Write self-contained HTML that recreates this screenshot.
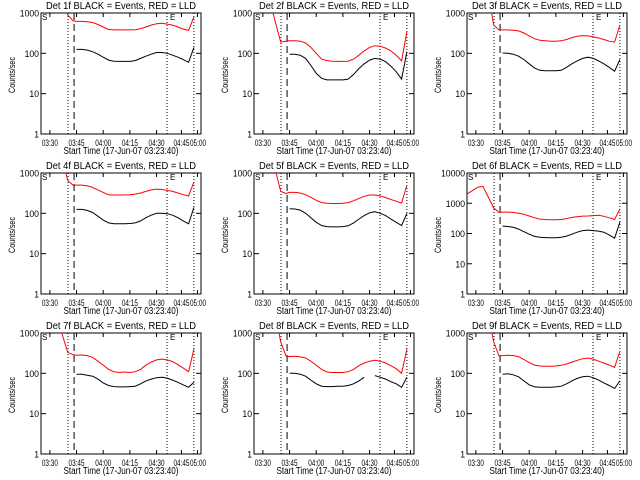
<!DOCTYPE html>
<html><head><meta charset="utf-8"><style>
html,body{margin:0;padding:0;background:#fff;}
svg{display:block;font-family:"Liberation Sans",sans-serif;}
</style></head><body>
<svg id="chart" width="640" height="480" viewBox="0 0 640 480" xmlns="http://www.w3.org/2000/svg">
<rect width="640" height="480" fill="#fff"/>
<defs><clipPath id="pc"><rect x="41" y="13" width="160" height="121"/></clipPath></defs>
</svg>
<script>
// time in minutes after 03:00
const tBlack = [225,228,231,234,237,240,243,246,249,252,255,258,261,264,267,270,273,276,279,282,285,288,291];
const tRedPre = [205,208,211,214,217,220,223];
const detNames = ["1f","2f","3f","4f","5f","6f","7f","8f","9f"];
const yMaxDec = [3,3,3,3,3,4,3,3,3];
const redPre1 = [5000,5000,5000,5000,2000,900,640];
const red1 = [620,620,610,580,520,450,390,380,380,380,380,385,410,450,500,540,560,530,500,450,400,370,800];
const black1 = [125,125,120,110,95,80,68,64,63,63,63,66,75,85,95,105,105,100,90,80,70,60,140];
const redPre2 = [5000,5000,5000,2000,600,190,200];
const red2 = [205,205,200,180,140,100,72,66,64,63,63,64,72,90,115,140,155,150,135,115,90,65,350];
const black2 = [95,95,90,75,50,32,24,22,22,22,22,23,30,42,55,68,75,72,62,48,35,23,110];
const redPre3 = [5000,5000,5000,5000,3000,500,380];
const red3 = [380,380,375,360,320,270,230,210,205,200,200,205,220,245,265,275,270,255,240,220,200,190,500];
const black3 = [102,100,95,85,70,55,43,38,37,37,37,38,45,55,65,75,80,75,65,55,45,36,70];
const redPre4 = [5000,5000,5000,5000,2500,650,500];
const red4 = [500,500,480,440,380,330,290,285,285,285,290,300,320,350,380,400,390,370,350,320,290,270,600];
const black4 = [125,125,118,105,85,68,58,55,55,55,56,58,65,78,90,100,100,98,90,78,65,55,140];
const redPre5 = [5000,5000,5000,3000,1200,350,310];
const red5 = [330,330,320,290,250,210,185,178,175,175,178,185,205,235,265,285,285,270,245,220,200,180,500];
const black5 = [130,128,120,100,78,60,50,47,46,46,47,49,58,72,88,103,110,100,88,72,60,50,100];
const redPre6 = [2000,2600,3400,3600,1600,700,500];
const red6 = [510,510,500,470,430,380,330,300,290,285,285,290,310,340,360,375,380,390,400,370,330,290,650];
const black6 = [175,170,160,140,115,95,80,75,73,72,72,75,82,95,110,125,130,125,120,110,90,70,240];
const redPre7 = [5000,5000,5000,3000,900,330,290];
const red7 = [280,285,275,250,200,160,125,110,105,108,105,110,125,160,190,215,225,215,195,165,135,110,400];
const black7 = [95,95,90,85,72,58,50,47,46,46,47,48,55,65,72,78,80,76,68,60,52,45,60];
const redPre8 = [5000,5000,5000,5000,3000,600,270];
const red8 = [260,265,255,240,200,160,125,108,105,105,105,110,125,155,180,200,210,200,180,155,130,100,400];
const black8 = [100,100,95,85,68,55,48,47,47,48,48,50,55,65,80,null,88,80,72,62,55,45,80];
const redPre9 = [5000,5000,5000,5000,3000,600,270];
const red9 = [275,280,275,260,220,185,160,152,150,150,152,158,170,190,210,230,240,225,200,180,160,140,350];
const black9 = [95,98,92,82,65,52,46,45,45,45,46,48,55,65,75,82,85,78,68,58,50,42,65];
const xTickTimes = [210,225,240,255,270,284,293];
const xTickLabels = ["03:30","03:45","04:00","04:15","04:30","04:45","05:00"];
const dottedTimes = [220.2,275.9,291];
const dashedTime = 223.6;

const reds=[red1,red2,red3,red4,red5,red6,red7,red8,red9];
const redPres=[redPre1,redPre2,redPre3,redPre4,redPre5,redPre6,redPre7,redPre8,redPre9];
const blacks=[black1,black2,black3,black4,black5,black6,black7,black8,black9];
const NS="http://www.w3.org/2000/svg";
const svg=document.getElementById('chart');
function el(tag,attrs,parent){const e=document.createElementNS(NS,tag);for(const k in attrs)e.setAttribute(k,attrs[k]);parent.appendChild(e);return e;}
const X0=41,X1=201,Y0=13,Y1=134;
function xs(t){return X0+(t-205)*160/90;}
function ysFor(dec){return v=>Y1-Math.log10(v)*(Y1-Y0)/dec;}
function pathFrom(ts,vs,ys){let d="",pen=false;for(let i=0;i<ts.length;i++){const v=vs[i];if(v==null){pen=false;continue;}d+=(pen?"L":"M")+xs(ts[i]).toFixed(1)+" "+ys(v).toFixed(1)+" ";pen=true;}return d;}

for(let p=0;p<9;p++){
  const cx=(p%3)*213, cy=Math.floor(p/3)*160;
  const g=el('g',{transform:`translate(${cx},${cy})`},svg);
  
  
  const dec=yMaxDec[p], ys=ysFor(dec);
  const title=el('text',{x:121,y:9,'font-size':10,'text-anchor':'middle',textLength:150,lengthAdjust:'spacingAndGlyphs'},g);
  title.textContent=`Det ${detNames[p]} BLACK = Events, RED = LLD`;
  
  
  const box=el('rect',{x:X0,y:Y0,width:X1-X0,height:Y1-Y0,fill:'none',stroke:'#000','stroke-width':1},g);
  
  
  for(let k=0;k<=dec;k++){
    const y=ys(Math.pow(10,k));
    el('line',{x1:X0,x2:X0+5,y1:y,y2:y,stroke:'#000'},g);
    el('line',{x1:X1-5,x2:X1,y1:y,y2:y,stroke:'#000'},g);
    const txt=String(Math.pow(10,k));
    const lab=el('text',{x:39,y:y+3.5,'font-size':9,'text-anchor':'end',textLength:txt.length*4.8,lengthAdjust:'spacingAndGlyphs'},g);
    lab.textContent=txt;
    
    
  }
  for(let k=0;k<xTickTimes.length;k++){
    const x=Math.min(xs(xTickTimes[k]),X1);
    el('line',{x1:x,x2:x,y1:Y1,y2:Y1-4,stroke:'#000'},g);
    el('line',{x1:x,x2:x,y1:Y0,y2:Y0+4,stroke:'#000'},g);
    const lab=el('text',{x:(k==xTickTimes.length-1?198:x),y:146,'font-size':9,'text-anchor':'middle',textLength:16,lengthAdjust:'spacingAndGlyphs'},g);
    lab.textContent=xTickLabels[k];
    
    
  }
  const xt=el('text',{x:121,y:154,'font-size':10,'text-anchor':'middle',textLength:115,lengthAdjust:'spacingAndGlyphs'},g);
  xt.textContent="Start Time (17-Jun-07 03:23:40)";
  
  
  const yt=el('text',{x:0,y:0,'font-size':9,'text-anchor':'middle',textLength:36,lengthAdjust:'spacingAndGlyphs',transform:'translate(15,75) rotate(-90)'},g);
  yt.textContent="Counts/sec";
  
  
  for(const t of dottedTimes){
    const l=el('line',{x1:xs(t),x2:xs(t),y1:Y0,y2:Y1,stroke:'#000','stroke-dasharray':'1 2'},g);
    
    
  }
  const dl=el('line',{x1:xs(dashedTime),x2:xs(dashedTime),y1:Y0,y2:Y1,stroke:'#000','stroke-dasharray':'7 4'},g);
  
  
  const s=el('text',{x:42,y:20,'font-size':8},g);
  s.textContent="S";
  
  
  const e=el('text',{x:170,y:20,'font-size':8},g);
  e.textContent="E";
  
  
  const cg=el('g',{'clip-path':'url(#pc)'},g);
  const rp=el('path',{d:pathFrom(tRedPre.concat(tBlack),redPres[p].concat(reds[p]),ys),fill:'none',stroke:'#f00','stroke-width':1},cg);
  
  
  const bp=el('path',{d:pathFrom(tBlack,blacks[p],ys),fill:'none',stroke:'#000','stroke-width':1},cg);
  
  
}
</script>
</body></html>
